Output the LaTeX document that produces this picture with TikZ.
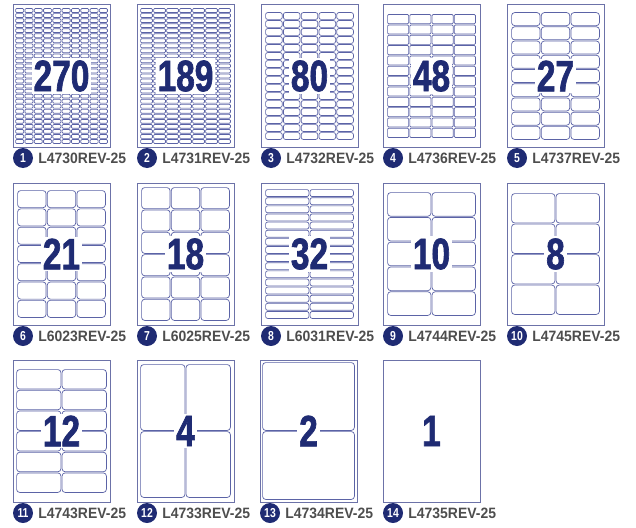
\documentclass[tikz,border=0pt]{standalone}
\usepackage{fontspec}
\setmainfont{Liberation Sans}
\newfontfamily\numfont[FakeStretch=0.76, FakeBold=1.5]{Liberation Sans}
\newfontfamily\badgefont[FakeStretch=0.8]{Liberation Sans}
\newfontfamily\codefont[FakeStretch=0.93]{Liberation Sans}
\usetikzlibrary{positioning}
\definecolor{SheetLine}{HTML}{6C72A8}
\definecolor{CellLine}{HTML}{5B63A6}
\definecolor{Navy}{HTML}{1F2B73}
\definecolor{CodeGray}{HTML}{4D4D4D}
\tikzset{
  sheetbox/.style={draw=SheetLine, line width=1pt, fill=white},
  cellbox/.style={draw=CellLine, line width=0.7pt},
  countnum/.style={fill=white, inner sep=2pt, text=Navy,
    font=\numfont\bfseries\fontsize{44}{44}\selectfont},
  badge/.style={circle, fill=Navy, minimum size=20pt, inner sep=0pt, text=white,
    font=\badgefont\bfseries\fontsize{13}{13}\selectfont},
  codetext/.style={inner sep=0pt, text=CodeGray,
    font=\codefont\bfseries\fontsize{15}{15}\selectfont},
}

\begin{document}
\begin{tikzpicture}[x=1pt, y=-1pt]
  \useasboundingbox (0,0) rectangle (636,527);
  % id / left / top / cols / rows / margin x / margin y / corner / count / code
  \foreach \i/\xl/\yt/\nc/\nr/\mx/\my/\rc/\num/\code in {
      1/13/5/10/27/2/3/1/270/L4730REV-25,
      2/137/5/7/27/3/3/1/189/L4731REV-25,
      3/261/5/5/16/4/7/2/80/L4732REV-25,
      4/383/5/4/12/4/9/1/48/L4736REV-25,
      5/507/5/3/9/4/7/3/27/L4737REV-25,
      6/13/183/3/7/4/7/3/21/L6023REV-25,
      7/137/183/3/6/4/4/3/18/L6025REV-25,
      8/261/183/2/16/4/6/2/32/L6031REV-25,
      9/383/183/2/5/4/9/3/10/L4744REV-25,
      10/507/183/2/4/4/10/3/8/L4745REV-25,
      11/13/360/2/6/3/9/3/12/L4743REV-25,
      12/137/360/2/2/3/4/3/4/L4733REV-25,
      13/260/360/1/2/2/2/3/2/L4734REV-25,
      14/383/360/0/0/0/0/0/1/L4735REV-25} {
    \pgfmathsetmacro\xr{\xl+97}
    \pgfmathsetmacro\yb{\yt+142}
    \draw[sheetbox] (\xl,\yt) rectangle (\xr,\yb);
    % label grid
    \ifnum\nc>0
      \pgfmathsetmacro\cw{(97-2*\mx)/\nc}
      \pgfmathsetmacro\ch{(142-2*\my)/\nr}
      \foreach \c in {1,...,\nc} {
        \foreach \r in {1,...,\nr} {
          \draw[cellbox, rounded corners=\rc pt]
            ({\xl+\mx+(\c-1)*\cw+0.6}, {\yt+\my+(\r-1)*\ch+0.6}) rectangle
            ({\xl+\mx+\c*\cw-0.6}, {\yt+\my+\r*\ch-0.6});
        }
      }
    \fi
    \node[countnum] (n\i) at ({\xl+48.5}, {\yt+71}) {\num};
    \node[badge] (b\i) at ({\xl+10}, {\yb+11}) {\i};
    \node[codetext, right=5pt of b\i] (c\i) {\code};
  }
\end{tikzpicture}
\end{document}
